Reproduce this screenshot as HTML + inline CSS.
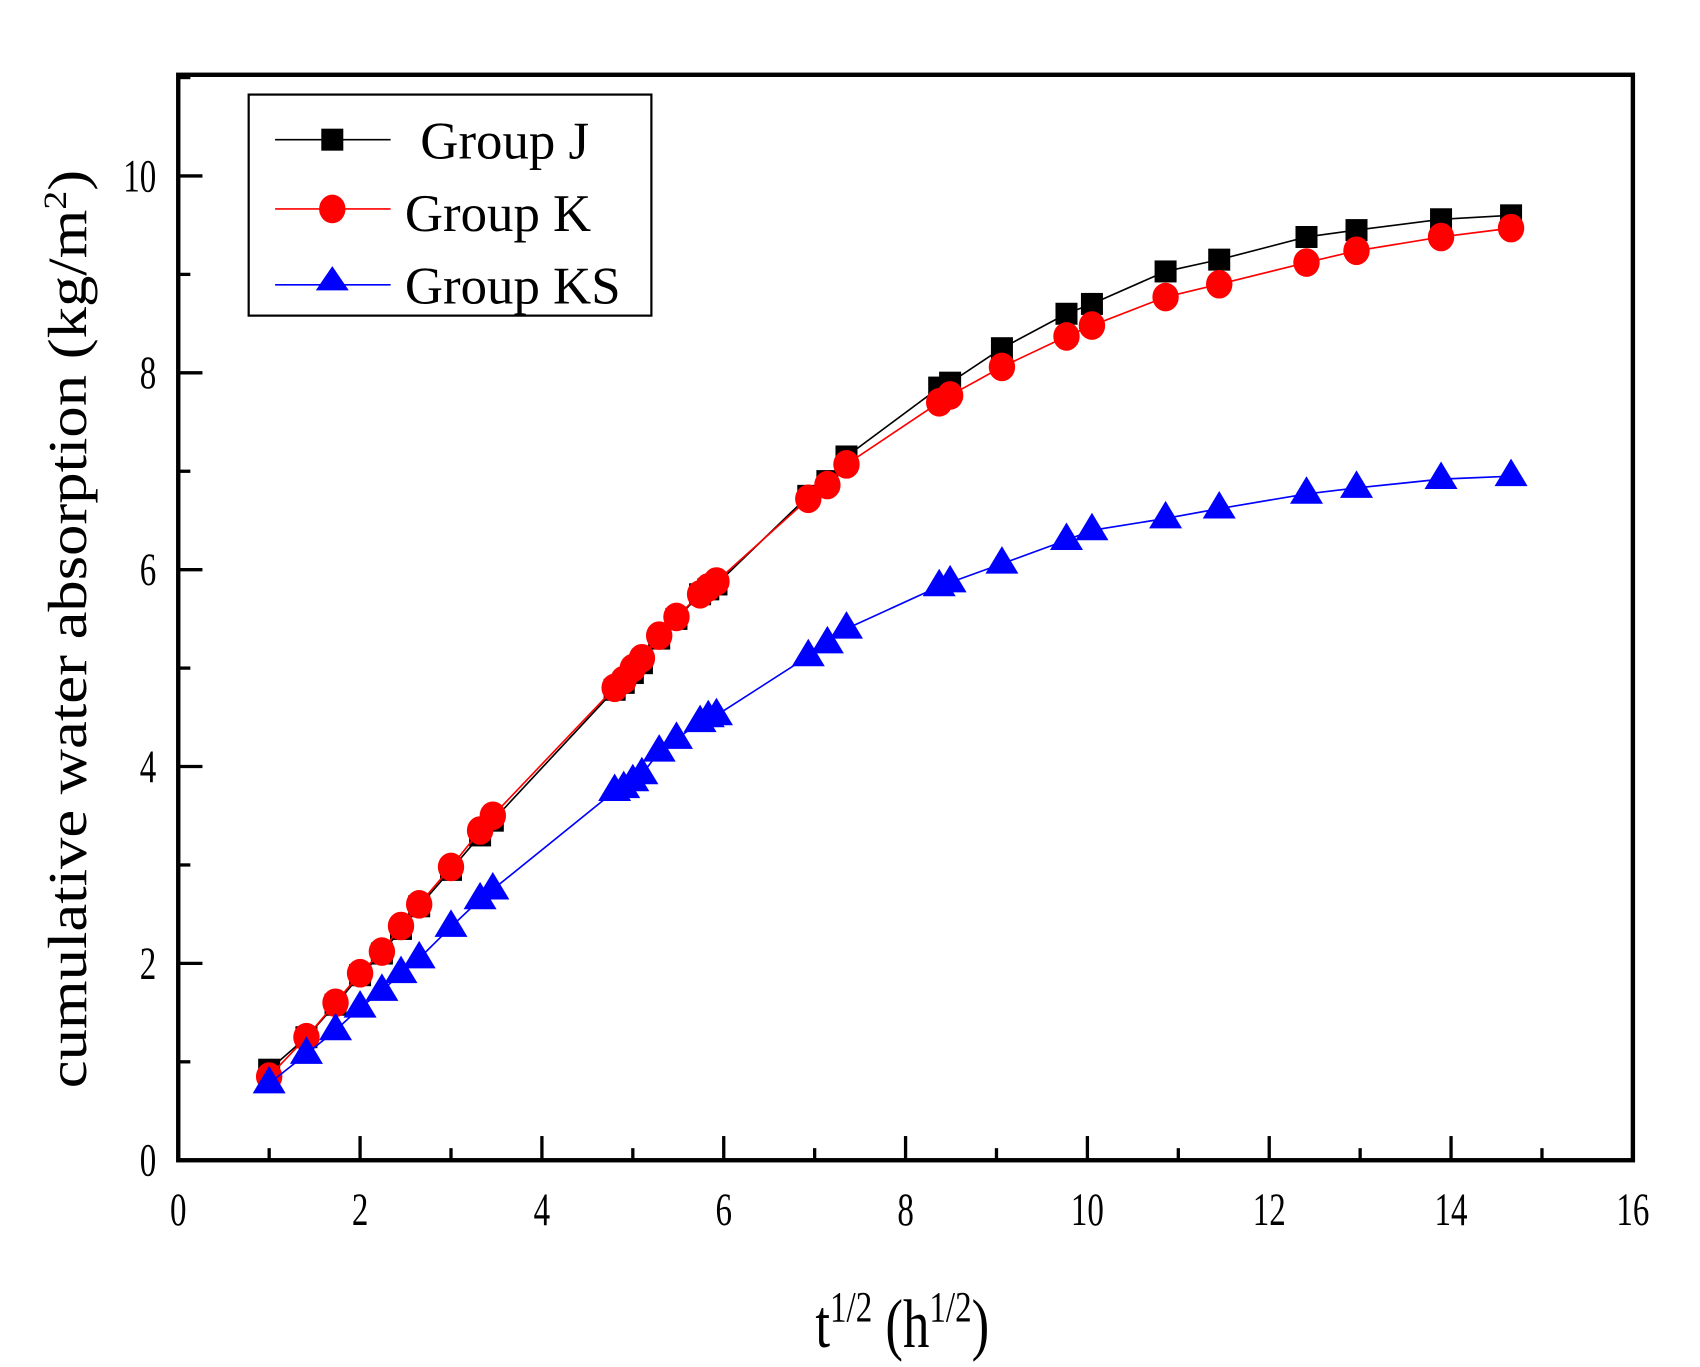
<!DOCTYPE html>
<html><head><meta charset="utf-8"><style>html,body{margin:0;padding:0;background:#fff}svg{display:block}</style></head>
<body>
<svg id="s" width="1700" height="1367" viewBox="0 0 1545 1243" preserveAspectRatio="none" xmlns="http://www.w3.org/2000/svg" font-family="Liberation Serif, serif">
<rect width="1545" height="1243" fill="#fff"/>
<g id="ticks" stroke="#000" stroke-width="3"></g>
<g id="data"></g>
<rect x="162" y="68" width="1322" height="987" fill="none" stroke="#000" stroke-width="4"/>
<g id="labels" font-size="30" fill="#000"></g>
<text transform="translate(78,572) rotate(-90)" text-anchor="middle" font-size="50" textLength="835" lengthAdjust="spacingAndGlyphs">cumulative water absorption (kg/m<tspan dy="-18" font-size="30">2</tspan><tspan dy="18">)</tspan></text>
<g transform="translate(820,1225) scale(1,1.3)"><text x="0" y="0" text-anchor="middle" font-size="48">t<tspan dy="-18" font-size="30">1/2</tspan><tspan dy="18"> (h</tspan><tspan dy="-18" font-size="30">1/2</tspan><tspan dy="18">)</tspan></text></g>
<rect x="226" y="86" width="366" height="201" fill="#fff" stroke="#000" stroke-width="2"/>
<line x1="250" y1="127" x2="355" y2="127" stroke="#000" stroke-width="1.5"/>
<rect x="292" y="117" width="20" height="20" fill="#000"/>
<line x1="250" y1="190" x2="355" y2="190" stroke="#f00" stroke-width="1.5"/>
<ellipse cx="302" cy="190" rx="12" ry="13" fill="#f00"/>
<line x1="250" y1="259" x2="355" y2="259" stroke="#00f" stroke-width="1.5"/>
<polygon points="302,242 317,264 287,264" fill="#00f"/>
<text x="382" y="144" font-size="48">Group J</text>
<text x="368" y="210" font-size="48">Group K</text>
<text x="368" y="276" font-size="48">Group KS</text>
</svg>
<script>
const NS="http://www.w3.org/2000/svg";
const X=v=>162+v*82.625, Y=v=>1055-v*89.5;
function el(p,t,a){const e=document.createElementNS(NS,t);for(const k in a)e.setAttribute(k,a[k]);p.appendChild(e);return e;}
const tk=document.getElementById('ticks'),lb=document.getElementById('labels');
for(let i=1;i<16;i++){const x=X(i);el(tk,'line',{x1:x,y1:1055,x2:x,y2:i%2?1044:1033});}
for(let i=1;i<=11;i++){const y=Y(i);el(tk,'line',{x1:162,y1:y,x2:i%2?173:184,y2:y});}
function lab(x,y,s,anc){const g=el(lb,'g',{transform:`translate(${x},${y}) scale(1,1.4)`});const t=el(g,'text',{x:0,y:0,'text-anchor':anc});t.textContent=s;}
for(let i=0;i<=16;i+=2){lab(X(i),1114,i,'middle');}
for(let i=0;i<=10;i+=2){lab(142,Y(i)+14,i,'end');}
const xs=[1,1.41,1.73,2,2.24,2.45,2.65,3,3.32,3.46,4.8,4.9,5,5.1,5.29,5.48,5.74,5.83,5.92,6.93,7.14,7.35,8.37,8.49,9.06,9.77,10.05,10.86,11.45,12.41,12.96,13.89,14.66];
const J=[0.92,1.25,1.58,1.88,2.1,2.35,2.58,2.95,3.3,3.45,4.78,4.85,4.95,5.05,5.3,5.5,5.75,5.8,5.85,6.75,6.9,7.15,7.85,7.9,8.25,8.6,8.7,9.03,9.15,9.38,9.45,9.56,9.6];
const K=[0.85,1.25,1.6,1.9,2.12,2.38,2.6,2.98,3.35,3.5,4.8,4.88,5.0,5.1,5.33,5.52,5.75,5.82,5.88,6.72,6.86,7.07,7.7,7.77,8.06,8.37,8.48,8.77,8.9,9.12,9.24,9.38,9.47];
const S=[0.78,1.08,1.32,1.55,1.72,1.9,2.05,2.37,2.65,2.75,3.75,3.78,3.85,3.92,4.15,4.28,4.45,4.5,4.52,5.12,5.25,5.4,5.83,5.87,6.06,6.3,6.4,6.52,6.62,6.77,6.83,6.92,6.95];
const d=document.getElementById('data');
function line(a,c){el(d,'polyline',{points:xs.map((x,i)=>X(x)+','+Y(a[i])).join(' '),fill:'none',stroke:c,'stroke-width':1.5});}
line(J,'#000');
xs.forEach((x,i)=>el(d,'rect',{x:X(x)-10,y:Y(J[i])-10,width:20,height:20,fill:'#000'}));
line(K,'#f00');
xs.forEach((x,i)=>el(d,'ellipse',{cx:X(x),cy:Y(K[i]),rx:12,ry:13,fill:'#f00'}));
line(S,'#00f');
xs.forEach((x,i)=>{const cx=X(x),cy=Y(S[i]);el(d,'polygon',{points:`${cx},${cy-16} ${cx+15},${cy+9} ${cx-15},${cy+9}`,fill:'#00f'});});
</script>
</body></html>
